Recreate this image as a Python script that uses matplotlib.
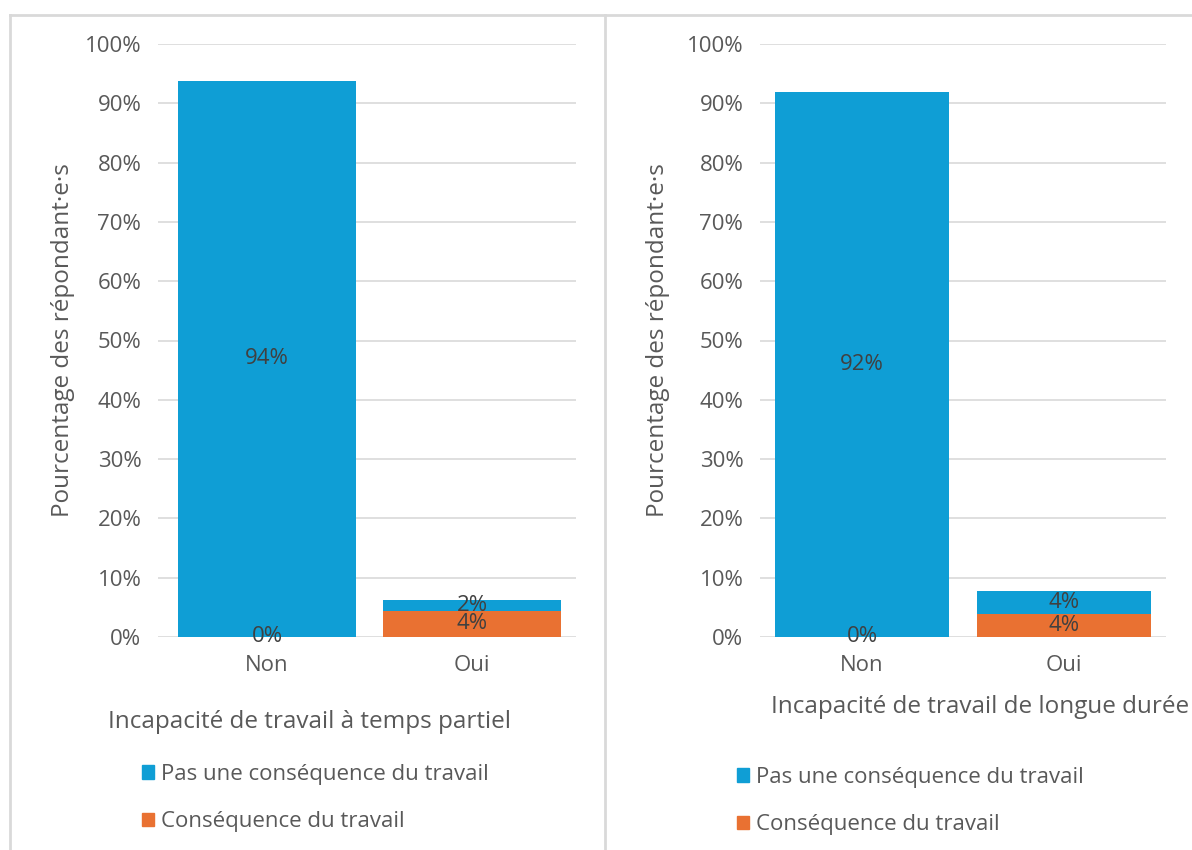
import matplotlib.pyplot as plt
from matplotlib.lines import Line2D
from matplotlib.patches import Patch

plt.rcParams['font.family'] = ['Open Sans', 'DejaVu Sans']

# data (percent of respondents)
categories = ["Non", "Oui"]
series_names = ["Pas une conséquence du travail", "Conséquence du travail"]
partiel_pas = [93.8, 1.9]
partiel_cons = [0.0, 4.4]
longue_pas = [91.9, 3.9]
longue_cons = [0.0, 3.9]
titles = ["Incapacité de travail à temps partiel", "Incapacité de travail de longue durée"]
y_ticks = [0, 10, 20, 30, 40, 50, 60, 70, 80, 90, 100]

BLUE = "#0F9ED5"
ORANGE = "#E97132"
GRID = "#D9D9D9"
TXT = "#595959"
LBL = "#404040"

W, H = 1192, 850
fig = plt.figure(figsize=(W / 100, H / 100), dpi=100)


def px(x0, y0, x1, y1):
    # pixel box (top-left origin) -> figure fraction rect
    return [x0 / W, 1 - y1 / H, (x1 - x0) / W, (y1 - y0) / H]


def panel(rect, pas, cons, width, xlim, ylabelpad):
    ax = fig.add_axes(rect)
    x = range(len(categories))
    b_cons = ax.bar(x, cons, width=width, color=ORANGE, zorder=3)
    b_pas = ax.bar(x, pas, width=width, bottom=cons, color=BLUE, zorder=3)
    for b in (b_cons, b_pas):
        ax.bar_label(b, labels=[f"{v:.0f}%" for v in b.datavalues],
                     label_type="center", fontsize=16, color=LBL, zorder=4)
    ax.set_xlim(*xlim)
    ax.set_ylim(0, 100)
    ax.set_yticks(y_ticks)
    ax.set_yticklabels([f"{t}%" for t in y_ticks])
    ax.set_xticks(list(x))
    ax.set_xticklabels(categories)
    ax.tick_params(length=0, labelsize=16, colors=TXT)
    ax.tick_params(axis="y", pad=12)
    ax.tick_params(axis="x", pad=13)
    ax.grid(axis="y", color=GRID, linewidth=1.2, zorder=0)
    for s in ax.spines.values():
        s.set_visible(False)
    ax.set_ylabel("Pourcentage des répondant·e·s", fontsize=17.5, color=TXT,
                  labelpad=ylabelpad)
    return ax


panel(px(158, 44, 576, 637), partiel_pas, partiel_cons, 0.868, (-0.532, 1.507), 7)
panel(px(760, 44, 1166, 637), longue_pas, longue_cons, 0.86, (-0.505, 1.505), 12)

# axis titles under each chart
fig.text(310 / W, 1 - 722 / H, titles[0], ha="center", va="center", fontsize=17.5, color=TXT)
fig.text(980 / W, 1 - 707 / H, titles[1], ha="center", va="center", fontsize=17.5, color=TXT)

# legends
handles = [Patch(color=BLUE), Patch(color=ORANGE)]
for (lx, ly) in [(122, 798), (717, 801)]:
    fig.legend(handles, series_names, loc="center left",
               bbox_to_anchor=(lx / W, 1 - ly / H), frameon=False,
               fontsize=16, labelcolor=TXT, handlelength=0.55, handleheight=0.55,
               handletextpad=0.3, labelspacing=1.2)

# chart area borders
for xs, ys in [((10, W), (15, 15)), ((10, 10), (15, H)), ((605, 605), (15, H))]:
    fig.add_artist(Line2D([x / W for x in xs], [1 - y / H for y in ys],
                          color=GRID, linewidth=2))

fig.savefig("out.png", dpi=100)
